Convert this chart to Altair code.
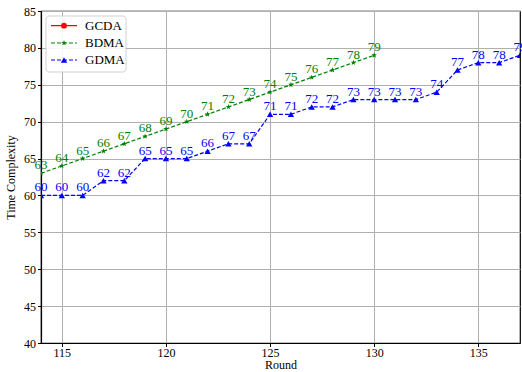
import altair as alt
import pandas as pd

series_names = ["GCDA", "BDMA", "GDMA"]
series_colors = ["red", "green", "blue"]

bdma_rounds = list(range(114, 131))
bdma_values = [63, 64, 65, 66, 67, 68, 69, 70, 71, 72, 73, 74, 75, 76, 77, 78, 79]

gdma_rounds = list(range(114, 138))
gdma_values = [60, 60, 60, 62, 62, 65, 65, 65, 66, 67, 67, 71, 71, 72, 72, 73, 73, 73, 73, 74, 77, 78, 78, 79]

x_ticks = [115, 120, 125, 130, 135]
y_ticks = [40, 45, 50, 55, 60, 65, 70, 75, 80, 85]

FONT = "Liberation Serif"
STAR = "M0,-1L0.24,-0.33L0.95,-0.31L0.38,0.12L0.59,0.81L0,0.4L-0.59,0.81L-0.38,0.12L-0.95,-0.31L-0.24,-0.33Z"

bdma_df = pd.DataFrame({"Round": bdma_rounds, "Value": bdma_values, "Series": "BDMA"})
gdma_df = pd.DataFrame({"Round": gdma_rounds, "Value": gdma_values, "Series": "GDMA"})

xs = alt.Scale(domain=[114, 137], nice=False, zero=False)
ys = alt.Scale(domain=[40, 85], nice=False, zero=False)

xenc = alt.X("Round:Q", scale=xs, title="Round",
             axis=alt.Axis(values=x_ticks, format="d", titlePadding=1, labelPadding=1))
yenc = alt.Y("Value:Q", scale=ys, title="Time Complexity",
             axis=alt.Axis(values=y_ticks, format="d", titlePadding=6))


def layer_for(df, color, shape, size):
    base = alt.Chart(df).encode(x=xenc, y=yenc)
    line = base.mark_line(color=color, strokeDash=[4, 2], strokeWidth=1.2, clip=True)
    pts = base.mark_point(color=color, fill=color, filled=True, shape=shape, size=size, opacity=1, clip=True)
    txt = base.mark_text(color=color, font=FONT, fontSize=13, baseline="bottom", dy=-1).encode(text="Value:Q")
    return [line, pts, txt]


layers = []
layers += layer_for(bdma_df, "green", STAR, 34)
layers += layer_for(gdma_df, "blue", "triangle-up", 40)

# legend
leg_df = pd.DataFrame({"Series": series_names})
box = alt.Chart(pd.DataFrame({"a": [0]})).mark_rect(
    fill="white", stroke="#cccccc", strokeWidth=1, cornerRadius=3, opacity=0.9
).encode(x=alt.value(5), x2=alt.value(85), y=alt.value(5), y2=alt.value(61))
layers.append(box)

shapes = ["circle", STAR, "triangle-up"]
dashes = [[1, 0], [4, 2], [4, 2]]
ypos = [14.7, 32, 49]
for name, col, shp, dsh, yy in zip(series_names, series_colors, shapes, dashes, ypos):
    d = leg_df[leg_df.Series == name]
    layers.append(alt.Chart(d).mark_rule(color=col, strokeDash=dsh, strokeWidth=1.2).encode(
        x=alt.value(10), x2=alt.value(36), y=alt.value(yy)))
    layers.append(alt.Chart(d).mark_point(color=col, fill=col, filled=True, shape=shp,
                                          size=34 if name != "GDMA" else 40, opacity=1).encode(
        x=alt.value(23), y=alt.value(yy)))
    layers.append(alt.Chart(d).mark_text(font=FONT, fontSize=13, align="left", baseline="middle",
                                         color="black").encode(
        x=alt.value(44), y=alt.value(yy), text="Series:N"))

chart = alt.layer(*layers).properties(
    width=479, height=332,
    padding={"left": 41, "top": 11, "right": 2, "bottom": 29},
    autosize=alt.AutoSizeParams(type="none"),
).configure_view(
    stroke="black", strokeWidth=1.2
).configure_axis(
    labelFont=FONT, titleFont=FONT, labelFontSize=12, titleFontSize=12,
    titleFontWeight="normal", labelColor="black", titleColor="black",
    gridColor="#b0b0b0", gridWidth=1, domainColor="black", domainWidth=1.2,
    tickColor="black", tickSize=3.5, labelPadding=2
)

chart.save("out.html", embed_options={"renderer": "svg", "actions": False})
